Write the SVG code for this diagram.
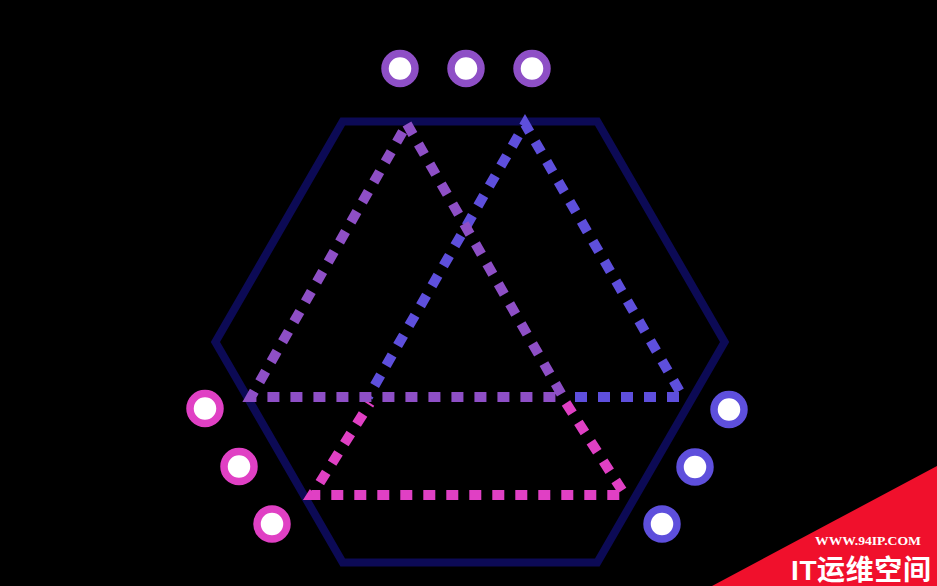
<svg xmlns="http://www.w3.org/2000/svg" width="937" height="586" viewBox="0 0 937 586">
<style>
.tri{fill:none;stroke-width:10;stroke-dasharray:12 11;stroke-linejoin:miter}
.dot{fill:#ffffff;stroke-width:7.5}
.wm{fill:#ffffff;font-weight:bold}
</style>
<rect x="0" y="0" width="937" height="586" fill="#000000"/>
<g id="hexagon">
<polygon points="342.7,121.5 597.3,121.5 724.6,342 597.3,562.5 342.7,562.5 215.4,342" fill="none" stroke="#0c0a55" stroke-width="8" stroke-linejoin="miter"/>
</g>
<g id="triangles">
<polyline id="magenta-part" class="tri" stroke="#e040c4" points="566,403 625,495 312,495 370,403"/>
<polyline id="blue-part" class="tri" stroke="#5e4fdc" points="575,397 683,397 525,124 368,397"/>
<polygon id="purple-part" class="tri" stroke="#8e4fc6" points="407,124 563,397 251,397"/>
</g>
<g id="top-circles">
<circle class="dot" stroke="#8e4fc6" cx="400" cy="68.5" r="15"/>
<circle class="dot" stroke="#8e4fc6" cx="466" cy="68.5" r="15"/>
<circle class="dot" stroke="#8e4fc6" cx="532" cy="68.5" r="15"/>
</g>
<g id="left-circles">
<circle class="dot" stroke="#e040c4" cx="205" cy="408.5" r="15"/>
<circle class="dot" stroke="#e040c4" cx="239" cy="466.5" r="15"/>
<circle class="dot" stroke="#e040c4" cx="272" cy="524" r="15"/>
</g>
<g id="right-circles">
<circle class="dot" stroke="#5e4fdc" cx="729" cy="409.5" r="15"/>
<circle class="dot" stroke="#5e4fdc" cx="695" cy="467" r="15"/>
<circle class="dot" stroke="#5e4fdc" cx="662" cy="524" r="15"/>
</g>
<g id="watermark">
<polygon points="937,466 937,586 712,586" fill="#f0102c"/>
<text class="wm" x="815" y="545" font-family="'Liberation Serif', serif" font-size="13" textLength="106" lengthAdjust="spacingAndGlyphs">WWW.94IP.COM</text>
<text class="wm" x="791" y="580" font-family="'Liberation Sans', 'Noto Sans CJK SC', sans-serif" font-size="28" textLength="140" lengthAdjust="spacing">IT运维空间</text>
</g>
</svg>
